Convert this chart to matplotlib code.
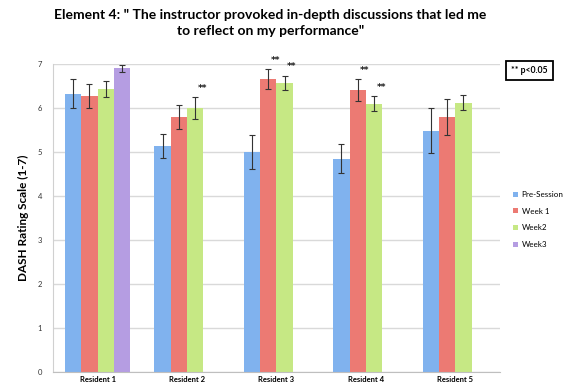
import matplotlib.pyplot as plt
import numpy as np

plt.rcParams['font.family'] = ['Lato', 'DejaVu Sans']

residents = ['Resident 1', 'Resident 2', 'Resident 3', 'Resident 4', 'Resident 5']
series = ['Pre-Session', 'Week 1', 'Week2', 'Week3']

pre_session = [6.32, 5.13, 5.00, 4.85, 5.48]
week1 = [6.28, 5.79, 6.66, 6.41, 5.79]
week2 = [6.43, 6.00, 6.57, 6.10, 6.12]
week3 = [6.90, np.nan, np.nan, np.nan, np.nan]

pre_err = [0.33, 0.27, 0.38, 0.33, 0.51]
week1_err = [0.27, 0.27, 0.22, 0.25, 0.41]
week2_err = [0.19, 0.25, 0.16, 0.17, 0.17]
week3_err = [0.08, np.nan, np.nan, np.nan, np.nan]

# (resident index, series index) pairs flagged as significant
significant = [(1, 2), (2, 1), (2, 2), (3, 1), (3, 2)]

colors = ['#80b2ee', '#ec7a73', '#c6e884', '#b59de2']

values = [pre_session, week1, week2, week3]
errors = [pre_err, week1_err, week2_err, week3_err]

fig = plt.figure(figsize=(5.63, 3.87), dpi=100)
ax = fig.add_axes([0.0941, 0.0388, 0.7940, 0.7958])

x = np.arange(len(residents))
w = 0.183
for i, (vals, errs) in enumerate(zip(values, errors)):
    pos = x + (i - 1.5) * w
    ax.bar(pos, vals, width=w, color=colors[i], label=series[i], zorder=2)
    ax.errorbar(pos, vals, yerr=errs, fmt='none', ecolor='#333333',
                elinewidth=0.8, capsize=2.2, capthick=0.8, zorder=3)

for r, s in significant:
    top = values[s][r] + errors[s][r]
    ax.text(x[r] + (s - 1.5) * w + 0.08, top + 0.1, '**', ha='center',
            va='bottom', fontsize=6.5, fontweight='bold', color='#1a1a1a',
            family=['DejaVu Sans'])

ax.set_xlim(-0.5, 4.5)
ax.set_ylim(0, 7)
ax.set_yticks(range(0, 8))
ax.yaxis.grid(True, color='#d9d9d9', linewidth=1.0)
ax.set_axisbelow(True)
for side in ['top', 'right']:
    ax.spines[side].set_visible(False)
ax.spines['left'].set_color('#d0d0d0')
ax.spines['bottom'].set_color('#bfbfbf')
ax.tick_params(axis='y', length=0, labelsize=5.5, labelcolor='#333333', pad=8)
ax.tick_params(axis='x', length=0, labelsize=5.5, pad=3)
ax.set_xticks(x)
ax.set_xticklabels(residents, fontweight='bold')

ax.set_ylabel('DASH Rating Scale (1-7)', fontsize=8.5, fontweight='bold', labelpad=6)

fig.suptitle('Element 4: " The instructor provoked in-depth discussions that led me\n'
             'to reflect on my performance"', x=0.48, y=0.978,
             fontsize=10, fontweight='bold', linespacing=1.45)

ax.legend(loc='upper left', bbox_to_anchor=(0.905, 0.515), bbox_transform=fig.transFigure,
          frameon=False, fontsize=5.8, handlelength=0.6, handleheight=0.6,
          handletextpad=0.5, labelspacing=1.2, borderaxespad=0)

fig.text(0.9405, 0.817, '** p<0.05', ha='center', va='center', fontsize=6.2,
         fontweight='bold',
         bbox=dict(boxstyle='square,pad=0.6', facecolor='white',
                   edgecolor='black', linewidth=1.3))

fig.savefig('out.png', dpi=100)
